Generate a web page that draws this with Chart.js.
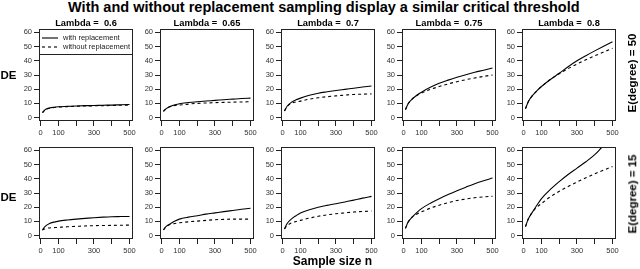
<!DOCTYPE html>
<html>
<head>
<meta charset="utf-8">
<script src="https://cdn.jsdelivr.net/npm/chart.js@4.4.1/dist/chart.umd.min.js"></script>
<style>
  html, body { margin: 0; padding: 0; background: #fff; }
  #fig { position: relative; width: 640px; height: 269px; overflow: hidden;
         font-family: "Liberation Sans", Arial, sans-serif; color: #000; }
  #fig canvas { position: absolute; }
  .lbl { position: absolute; white-space: pre; line-height: 1; font-weight: bold; }
</style>
</head>
<body>
<div id="fig"></div>
<script>
// data
var sampleSizes = [10, 25, 50, 75, 100, 150, 200, 250, 300, 350, 400, 450, 500];
var lambdas = ['0.6', '0.65', '0.7', '0.75', '0.8'];
var degrees = ['50', '15'];
var seriesNames = ['with replacement', 'without replacement'];
var xTicks = [0, 100, 200, 300, 400, 500];
var xTickLabels = ['0', '100', '', '300', '', '500'];
var yTicks = [0, 10, 20, 30, 40, 50, 60];

// E(degree) = 50, one row per lambda
var withRep50 = [
  [3.5, 5.6, 6.8, 7.3, 7.6, 7.9, 8.2, 8.4, 8.5, 8.7, 8.8, 9.0, 9.2],
  [4.4, 6.3, 7.9, 9.0, 9.8, 10.6, 11.2, 11.7, 12.1, 12.6, 13.0, 13.4, 13.7],
  [4.7, 8.0, 10.9, 12.5, 13.7, 15.7, 17.2, 18.2, 19.1, 19.9, 20.7, 21.5, 22.3],
  [5.6, 9.8, 13.3, 15.9, 17.9, 21.3, 24.2, 26.4, 28.4, 30.2, 31.9, 33.4, 34.9],
  [6.3, 11.0, 15.6, 19.0, 21.9, 26.8, 31.2, 35.8, 40.0, 43.6, 47.0, 50.3, 53.5]
];
var withoutRep50 = [
  [3.5, 5.5, 6.6, 7.1, 7.4, 7.7, 8.0, 8.2, 8.3, 8.4, 8.5, 8.7, 8.8],
  [4.4, 6.3, 8.0, 8.5, 8.8, 9.5, 10.0, 10.3, 10.5, 10.7, 10.9, 11.0, 11.2],
  [4.7, 7.8, 10.2, 11.0, 11.6, 13.0, 14.0, 14.7, 15.3, 15.8, 16.3, 16.5, 16.7],
  [5.6, 9.8, 13.3, 15.5, 17.2, 19.8, 21.9, 23.7, 25.3, 26.7, 27.9, 29.0, 30.0],
  [6.3, 11.0, 15.6, 19.0, 21.9, 26.8, 30.9, 34.5, 37.7, 40.7, 43.5, 46.2, 48.8]
];

// E(degree) = 15
var withRep15 = [
  [4.0, 6.5, 8.6, 9.5, 10.2, 11.0, 11.6, 12.1, 12.6, 13.0, 13.3, 13.4, 13.5],
  [4.0, 6.5, 8.4, 10.2, 11.6, 13.0, 14.0, 15.1, 16.0, 16.9, 17.7, 18.5, 19.3],
  [4.7, 8.5, 11.8, 14.0, 15.9, 18.2, 20.0, 21.3, 22.4, 23.7, 25.0, 26.4, 27.6],
  [5.1, 9.5, 13.3, 16.4, 19.0, 22.8, 26.0, 28.9, 31.6, 34.1, 36.5, 38.6, 40.5],
  [6.3, 11.5, 16.7, 21.5, 26.0, 32.5, 38.0, 43.0, 47.5, 52.0, 57.0, 63.5, 69.0]
];
var withoutRep15 = [
  [3.8, 4.9, 5.4, 5.6, 5.8, 6.2, 6.5, 6.8, 7.0, 7.1, 7.2, 7.3, 7.4],
  [4.0, 6.3, 7.9, 8.5, 9.0, 9.7, 10.2, 10.7, 11.2, 11.4, 11.6, 11.6, 11.6],
  [4.7, 7.0, 8.9, 9.9, 10.7, 12.3, 13.6, 14.6, 15.4, 16.0, 16.6, 17.0, 17.3],
  [5.1, 9.5, 13.3, 15.2, 16.7, 19.3, 21.4, 23.2, 24.7, 25.8, 26.7, 27.3, 27.7],
  [6.3, 11.5, 16.7, 20.0, 22.6, 27.3, 31.2, 34.6, 37.7, 40.7, 43.5, 46.1, 48.6]
];

var titleText = 'With and without replacement sampling display a similar critical threshold';

// panel layout (page pixels)
var boxLeft = [39, 160, 281, 402, 522];
var boxTop = [29, 147];
var boxW = 94, boxH = 92;
var padL = 32, padT = 10, padR = 16, padB = 22;
var tickFont = { family: '"Liberation Sans", Arial, sans-serif', size: 7.5 };

var fig = document.getElementById('fig');

function addLabel(text, left, top, size, extra) {
  var d = document.createElement('div');
  d.className = 'lbl';
  d.textContent = text;
  d.style.left = left + 'px';
  d.style.top = top + 'px';
  d.style.fontSize = size + 'px';
  if (extra) d.style.transform = extra;
  fig.appendChild(d);
  return d;
}

// box around each panel, plus the legend in the first one
var panelBox = {
  id: 'panelBox',
  afterDatasetsDraw: function(chart, args, opts) {
    var a = chart.chartArea, ctx = chart.ctx;
    ctx.save();
    ctx.strokeStyle = '#222';
    ctx.lineWidth = 1;
    ctx.strokeRect(Math.round(a.left) + 0.5, Math.round(a.top) + 0.5,
                   Math.round(a.right - a.left) - 1, Math.round(a.bottom - a.top) - 1);
    if (opts.legend) {
      ctx.strokeRect(Math.round(a.left) + 0.5, Math.round(a.top) + 0.5, Math.round(a.right - a.left) - 1, 25);
      chart.data.datasets.forEach(function(ds, i) {
        var y = Math.round(a.top) + 9 + i * 9;
        ctx.beginPath();
        ctx.setLineDash(ds.borderDash || []);
        ctx.lineWidth = ds.borderWidth;
        ctx.strokeStyle = ds.borderColor;
        ctx.moveTo(a.left + 3, y);
        ctx.lineTo(a.left + 19, y);
        ctx.stroke();
        ctx.setLineDash([]);
        ctx.fillStyle = '#222';
        ctx.font = '7.5px "Liberation Sans", Arial, sans-serif';
        ctx.textBaseline = 'middle';
        ctx.fillText(ds.label, a.left + 24, y);
      });
    }
    ctx.restore();
  }
};

function points(vals) {
  return sampleSizes.map(function(n, i) { return { x: n, y: vals[i] }; });
}

function makePanel(row, col) {
  var cw = padL + boxW + padR, ch = padT + boxH + padB;
  var canvas = document.createElement('canvas');
  canvas.width = cw;
  canvas.height = ch;
  canvas.style.width = cw + 'px';
  canvas.style.height = ch + 'px';
  canvas.style.left = (boxLeft[col] - padL) + 'px';
  canvas.style.top = (boxTop[row] - padT) + 'px';
  fig.appendChild(canvas);

  var w = row === 0 ? withRep50 : withRep15;
  var wo = row === 0 ? withoutRep50 : withoutRep15;

  new Chart(canvas.getContext('2d'), {
    type: 'line',
    data: {
      datasets: [
        { label: seriesNames[0], data: points(w[col]), borderColor: '#000', borderWidth: 1.1,
          pointRadius: 0, cubicInterpolationMode: 'monotone' },
        { label: seriesNames[1], data: points(wo[col]), borderColor: '#000', borderWidth: 1.1,
          borderDash: [3, 3], pointRadius: 0, cubicInterpolationMode: 'monotone' }
      ]
    },
    options: {
      responsive: false,
      animation: false,
      devicePixelRatio: 1,
      events: [],
      layout: { padding: { left: 0, top: padT, right: padR, bottom: 0 } },
      plugins: {
        legend: { display: false },
        tooltip: { enabled: false },
        panelBox: { legend: row === 0 && col === 0 }
      },
      scales: {
        x: {
          type: 'linear', min: -9.6, max: 519.6,
          afterBuildTicks: function(s) { s.ticks = xTicks.map(function(v) { return { value: v }; }); },
          afterFit: function(s) { s.height = padB; },
          grid: { display: true, drawOnChartArea: false, drawTicks: true, tickLength: 5, color: '#222' },
          border: { display: false },
          ticks: { font: tickFont, color: '#333', padding: 2, maxRotation: 0, autoSkip: false,
                   callback: function(v) { return xTickLabels[xTicks.indexOf(v)]; } }
        },
        y: {
          type: 'linear', min: -2.4, max: 62.4,
          afterBuildTicks: function(s) { s.ticks = yTicks.map(function(v) { return { value: v }; }); },
          afterFit: function(s) { s.width = padL; },
          grid: { display: true, drawOnChartArea: false, drawTicks: true, tickLength: 5, color: '#222' },
          border: { display: false },
          ticks: { font: tickFont, color: '#333', padding: 2, autoSkip: false }
        }
      }
    },
    plugins: [panelBox]
  });
}

for (var r = 0; r < degrees.length; r++) {
  for (var c = 0; c < lambdas.length; c++) {
    makePanel(r, c);
  }
}

// texts
addLabel(titleText, 323.8, 0, 14.5, 'translateX(-50%)');
lambdas.forEach(function(l, i) {
  addLabel('Lambda =  ' + l, boxLeft[i] + boxW / 2, 18.8, 9.3, 'translateX(-50%)');
});
addLabel('DE', 0.5, 70.3, 11.5);
addLabel('DE', 0.5, 191.8, 11.5);
addLabel('E(degree) = ' + degrees[0], 633, 72.5, 11.5, 'translate(-50%, -50%) rotate(-90deg)');
addLabel('E(degree) = ' + degrees[1], 633, 193.5, 11.5, 'translate(-50%, -50%) rotate(-90deg)');
addLabel('Sample size n', 332.5, 254.8, 12, 'translateX(-50%)');
</script>
</body>
</html>
